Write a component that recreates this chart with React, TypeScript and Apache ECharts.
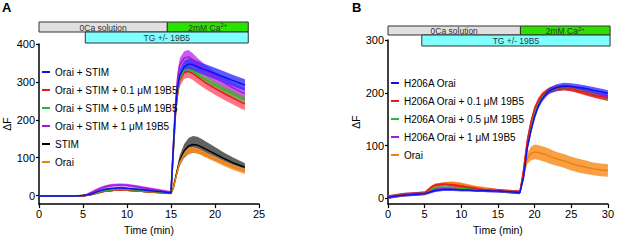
import React, { useEffect, useRef } from "react";
import * as echarts from "echarts";

const FONT = "Liberation Sans, Arial, sans-serif";

// ---------- Panel A ----------
const tA = [0, 1, 2, 3, 4, 5, 5.5, 6, 6.5, 7, 7.5, 8, 8.5, 9, 9.5, 10, 11, 12, 13, 14, 15, 15.25, 15.5, 15.75, 16, 16.5, 17, 17.5, 18, 18.5, 19, 20, 21, 22, 23, 23.4];

const blueA = [-1, -1, -1, -1, -1, 0, 2, 5, 9, 13, 16, 18, 19, 20, 20, 19, 17, 15, 12, 10, 7, 120, 225, 285, 318, 340, 347, 345, 340, 335, 331, 322, 313, 304, 295, 292];
const blueAErr = [2, 2, 2, 2, 2, 2, 2, 3, 3, 3, 3, 3, 3, 3, 3, 3, 3, 3, 3, 3, 3, 8, 12, 14, 15, 15, 15, 15, 15, 15, 15, 15, 15, 15, 15, 15];

const redA = [-2, -2, -2, -2, -2, -1, 1, 3, 6, 9, 12, 14, 15, 15, 15, 15, 14, 12, 10, 8, 6, 110, 210, 270, 305, 325, 328, 322, 313, 305, 297, 283, 270, 258, 246, 242];
const redAErr = [2, 2, 2, 2, 2, 2, 2, 3, 3, 3, 3, 3, 3, 3, 3, 3, 3, 3, 3, 3, 3, 10, 15, 17, 17, 17, 17, 17, 17, 17, 17, 17, 17, 17, 17, 17];

const greenA = [-1, -1, -1, -1, -1, 0, 2, 4, 7, 10, 13, 15, 16, 17, 17, 16, 15, 13, 11, 9, 7, 112, 215, 275, 310, 330, 333, 328, 320, 312, 305, 292, 280, 268, 257, 253];
const greenAErr = [2, 2, 2, 2, 2, 2, 2, 2, 2, 2, 2, 2, 2, 2, 2, 2, 2, 2, 2, 2, 2, 6, 8, 10, 10, 10, 10, 10, 10, 10, 10, 10, 10, 10, 10, 10];

const purpleA = [-1, -1, -1, -1, -1, 0, 3, 8, 14, 19, 23, 26, 27, 28, 28, 27, 24, 20, 16, 12, 9, 125, 240, 310, 345, 363, 366, 358, 347, 338, 328, 312, 298, 285, 273, 269];
const purpleAErr = [2, 2, 2, 2, 2, 2, 3, 4, 4, 4, 4, 4, 4, 4, 4, 4, 4, 4, 4, 4, 3, 10, 15, 18, 18, 18, 18, 17, 16, 15, 15, 15, 15, 15, 15, 15];

const blackA = [-1, -1, -1, -1, -1, 0, 1, 4, 7, 10, 12, 13, 14, 14, 14, 14, 13, 11, 9, 8, 6, 20, 45, 70, 93, 118, 131, 135, 133, 128, 122, 110, 98, 87, 78, 75];
const blackAErr = [2, 2, 2, 2, 2, 2, 2, 2, 2, 2, 2, 2, 2, 2, 2, 2, 2, 2, 2, 2, 2, 4, 7, 10, 14, 18, 21, 22, 22, 21, 20, 18, 16, 14, 12, 10];

const orangeA = [-1, -1, -1, -1, -1, 0, 1, 4, 7, 10, 12, 13, 14, 14, 14, 14, 13, 11, 9, 8, 6, 18, 42, 66, 88, 110, 119, 121, 118, 113, 107, 96, 85, 75, 67, 64];
const orangeAErr = [2, 2, 2, 2, 2, 2, 2, 2, 2, 2, 2, 2, 2, 2, 2, 2, 2, 2, 2, 2, 2, 3, 5, 6, 7, 7, 7, 7, 7, 7, 7, 7, 7, 7, 7, 7];

const namesA = ["Orai + STIM", "Orai + STIM + 0.1 μM 19B5", "Orai + STIM + 0.5 μM 19B5", "Orai + STIM + 1 μM 19B5", "STIM", "Orai"];
const ticksYA = [0, 100, 200, 300, 400];
const zeroCaA = [0, 14.58];
const caA = [14.58, 23.78];
const tgA = [5.26, 23.78];

// ---------- Panel B ----------
const tB = [0, 1, 2, 3, 4, 5, 5.5, 6, 6.5, 7, 7.5, 8, 8.5, 9, 10, 11, 12, 13, 14, 15, 16, 17, 18, 18.5, 19, 19.5, 20, 20.5, 21, 21.5, 22, 23, 24, 25, 26, 27, 28, 29, 30];

const blueB = [2, 4, 6, 7, 8, 9, 11, 13, 15, 16, 17, 17, 17, 17, 16, 16, 15, 15, 14, 14, 13, 12, 11, 40, 95, 128, 155, 175, 188, 197, 204, 210, 213, 212, 210, 208, 205, 202, 199];
const redB = [3, 5, 7, 8, 9, 10, 16, 22, 25, 26, 27, 27, 26, 25, 23, 21, 19, 17, 16, 15, 14, 13, 12, 55, 110, 145, 170, 185, 195, 201, 205, 209, 210, 208, 204, 200, 196, 193, 190];
const greenB = [3, 5, 7, 8, 9, 10, 14, 18, 20, 21, 21, 21, 21, 20, 19, 18, 17, 16, 15, 14, 13, 12, 12, 48, 102, 137, 163, 180, 191, 199, 204, 208, 210, 208, 205, 201, 197, 193, 189];
const purpleB = [3, 5, 7, 8, 9, 10, 13, 17, 19, 20, 20, 20, 20, 19, 18, 17, 16, 15, 15, 14, 13, 12, 12, 46, 100, 135, 161, 179, 190, 198, 203, 208, 210, 208, 205, 202, 198, 195, 192];
const orangeB = [2, 4, 6, 7, 8, 9, 14, 20, 23, 25, 27, 28, 29, 29, 27, 24, 21, 19, 17, 15, 14, 13, 12, 45, 75, 85, 88, 87, 85, 83, 80, 75, 71, 66, 62, 59, 56, 54, 53];

const blueBErr = [3, 3, 3, 3, 3, 3, 3, 3, 3, 3, 3, 3, 3, 3, 3, 3, 3, 3, 3, 3, 3, 3, 3, 5, 6, 6, 6, 6, 6, 6, 6, 6, 6, 6, 6, 6, 6, 6, 6];
const otherBErr = [3, 3, 3, 3, 3, 3, 3, 3, 3, 3, 3, 3, 3, 3, 3, 3, 3, 3, 3, 3, 3, 3, 3, 5, 5, 5, 5, 5, 5, 5, 5, 5, 5, 5, 5, 5, 5, 5, 5];
const orangeBErr = [3, 3, 3, 3, 3, 3, 3, 3, 3, 3, 3, 3, 3, 3, 3, 3, 3, 3, 3, 3, 3, 3, 3, 6, 10, 13, 14, 14, 14, 14, 14, 13, 13, 13, 13, 13, 12, 12, 12];

const namesB = ["H206A Orai", "H206A Orai + 0.1 μM 19B5", "H206A Orai + 0.5 μM 19B5", "H206A Orai + 1 μM 19B5", "Orai"];
const ticksYB = [0, 100, 200, 300];
const zeroCaB = [0, 18.07];
const caB = [18.07, 30.3];
const tgB = [4.61, 30.3];

const C = {
  blue: "#1010e8", blueBand: "rgba(50,50,255,0.8)",
  red: "#e81a1a", redBand: "rgba(255,40,70,0.65)",
  green: "#2fb52f", greenBand: "rgba(60,190,60,0.5)",
  purple: "#a01ad8", purpleBand: "rgba(190,50,240,0.8)",
  black: "#000000", blackBand: "rgba(70,70,70,0.85)",
  orange: "#f0800f", orangeBand: "rgba(247,150,50,0.9)",
};

function band(t: number[], mean: number[], err: number[], fill: string, xi: number) {
  return {
    type: "custom",
    xAxisIndex: xi,
    yAxisIndex: xi,
    clip: true,
    silent: true,
    data: [[t[0], mean[0]]],
    renderItem: (params: any, api: any) => {
      const pts: number[][] = [];
      for (let i = 0; i < t.length; i++) pts.push(api.coord([t[i], mean[i] + err[i]]));
      for (let i = t.length - 1; i >= 0; i--) pts.push(api.coord([t[i], mean[i] - err[i]]));
      return { type: "polygon", shape: { points: pts }, style: { fill } };
    },
  };
}

function line(name: string, t: number[], mean: number[], color: string, xi: number, w = 1.5) {
  return {
    type: "line",
    name,
    xAxisIndex: xi,
    yAxisIndex: xi,
    data: t.map((x, i) => [x, mean[i]]),
    showSymbol: false,
    symbol: "none",
    color,
    itemStyle: { color },
    lineStyle: { color, width: w },
  };
}

function xAxis(gi: number, max: number) {
  return {
    type: "value",
    gridIndex: gi,
    min: 0,
    max,
    interval: 5,
    axisLine: { show: true, onZero: false, lineStyle: { color: "#000", width: 1.5 } },
    axisTick: { show: true, length: 4, lineStyle: { color: "#000", width: 1.2 } },
    axisLabel: { fontSize: 11, color: "#000", margin: 4, fontFamily: FONT },
    splitLine: { show: false },
    name: "Time (min)",
    nameLocation: "middle",
    nameGap: 16,
    nameTextStyle: { fontSize: 10.5, color: "#000", fontFamily: FONT },
  };
}

function yAxis(gi: number, min: number, max: number, ticks: number[], gap: number) {
  return {
    type: "value",
    gridIndex: gi,
    min,
    max,
    axisLine: { show: true, onZero: false, lineStyle: { color: "#000", width: 1.5 } },
    axisTick: { show: true, length: 3, customValues: ticks, lineStyle: { color: "#000", width: 1.2 } },
    axisLabel: { fontSize: 11, color: "#000", margin: 4, fontFamily: FONT, customValues: ticks },
    splitLine: { show: false },
    name: "ΔF",
    nameLocation: "middle",
    nameGap: gap,
    nameRotate: 90,
    nameTextStyle: { fontSize: 10.5, color: "#000", fontFamily: FONT },
  };
}

function legend(left: number, top: number, names: string[]) {
  return {
    left,
    top,
    padding: 0,
    orient: "vertical",
    data: names,
    icon: "rect",
    itemWidth: 8,
    itemHeight: 2,
    itemGap: 6,
    selectedMode: false,
    textStyle: { fontSize: 10, color: "#000", fontFamily: FONT, lineHeight: 12 },
  };
}

export default function App() {
  const ref = useRef<HTMLDivElement>(null);
  useEffect(() => {
    const chart = echarts.init(ref.current!, null, { renderer: "svg" });
    const series: any[] = [
      // Panel A (bottom to top)
      band(tA, blackA, blackAErr, C.blackBand, 0), line(namesA[4], tA, blackA, C.black, 0),
      band(tA, orangeA, orangeAErr, C.orangeBand, 0), line(namesA[5], tA, orangeA, C.orange, 0),
      band(tA, purpleA, purpleAErr, C.purpleBand, 0), line(namesA[3], tA, purpleA, C.purple, 0),
      band(tA, redA, redAErr, C.redBand, 0), line(namesA[1], tA, redA, C.red, 0),
      band(tA, greenA, greenAErr, C.greenBand, 0), line(namesA[2], tA, greenA, C.green, 0),
      band(tA, blueA, blueAErr, C.blueBand, 0), line(namesA[0], tA, blueA, C.blue, 0),
      // Panel B
      band(tB, orangeB, orangeBErr, C.orangeBand, 1), line(namesB[4], tB, orangeB, C.orange, 1),
      band(tB, purpleB, otherBErr, C.purpleBand, 1), line(namesB[3], tB, purpleB, C.purple, 1),
      band(tB, greenB, otherBErr, C.greenBand, 1), line(namesB[2], tB, greenB, C.green, 1),
      band(tB, redB, otherBErr, "rgba(255,30,30,0.85)", 1), line(namesB[1], tB, redB, C.red, 1),
      band(tB, blueB, blueBErr, C.blueBand, 1), line(namesB[0], tB, blueB, C.blue, 1),
    ];
    chart.setOption({
      animation: false,
      backgroundColor: "#fff",
      textStyle: { fontFamily: FONT },
      grid: [
        { left: 39, top: 44, width: 220, height: 169 },
        { left: 388, top: 40, width: 223, height: 173 },
      ],
      xAxis: [xAxis(0, 25), xAxis(1, 30)],
      yAxis: [yAxis(0, -22.5, 400, ticksYA, 27), yAxis(1, -10.8, 300, ticksYB, 24)],
      legend: [legend(42, 66, namesA), legend(391, 77, namesB)],
      series,
    });

    const px = (xi: number, v: number) => chart.convertToPixel({ xAxisIndex: xi } as any, v) as number;
    const bar = (xi: number, span: number[], y: number, h: number, fill: string, text: string) => {
      const x0 = px(xi, span[0]);
      const x1 = px(xi, span[1]);
      return [
        { type: "rect", shape: { x: x0, y, width: x1 - x0, height: h }, style: { fill, stroke: "#333", lineWidth: 1 }, z: 10 },
        {
          type: "text",
          x: (x0 + x1) / 2,
          y: y + h / 2 + 0.5,
          z: 11,
          style: {
            text,
            fill: "#333",
            font: `8.5px ${FONT}`,
            fontSize: 8.5,
            fontFamily: FONT,
            align: "center",
            verticalAlign: "middle",
            rich: { sup: { fontSize: 6, fontFamily: FONT, fill: "#333", verticalAlign: "top", padding: [0, 0, 5, 0] } },
          },
        },
      ];
    };
    chart.setOption({
      graphic: [
        ...bar(0, zeroCaA, 22, 10, "#e0e0e0", "0Ca solution"),
        ...bar(0, caA, 22, 10, "#2ee000", "2mM Ca{sup|2+}"),
        ...bar(0, tgA, 32, 11, "#80ffff", "TG +/- 19B5"),
        ...bar(1, zeroCaB, 26, 9, "#e0e0e0", "0Ca solution"),
        ...bar(1, caB, 26, 9, "#2ee000", "2mM Ca{sup|2+}"),
        ...bar(1, tgB, 35, 11, "#80ffff", "TG +/- 19B5"),
        { type: "text", x: 2, y: 1, style: { text: "A", fill: "#000", font: `bold 13px ${FONT}`, fontSize: 13, fontWeight: "bold", fontFamily: FONT } },
        { type: "text", x: 352, y: 1, style: { text: "B", fill: "#000", font: `bold 13px ${FONT}`, fontSize: 13, fontWeight: "bold", fontFamily: FONT } },
      ],
    });
    return () => chart.dispose();
  }, []);
  return <div ref={ref} style={{ position: "fixed", left: 0, top: 0, width: 617, height: 240 }} />;
}
